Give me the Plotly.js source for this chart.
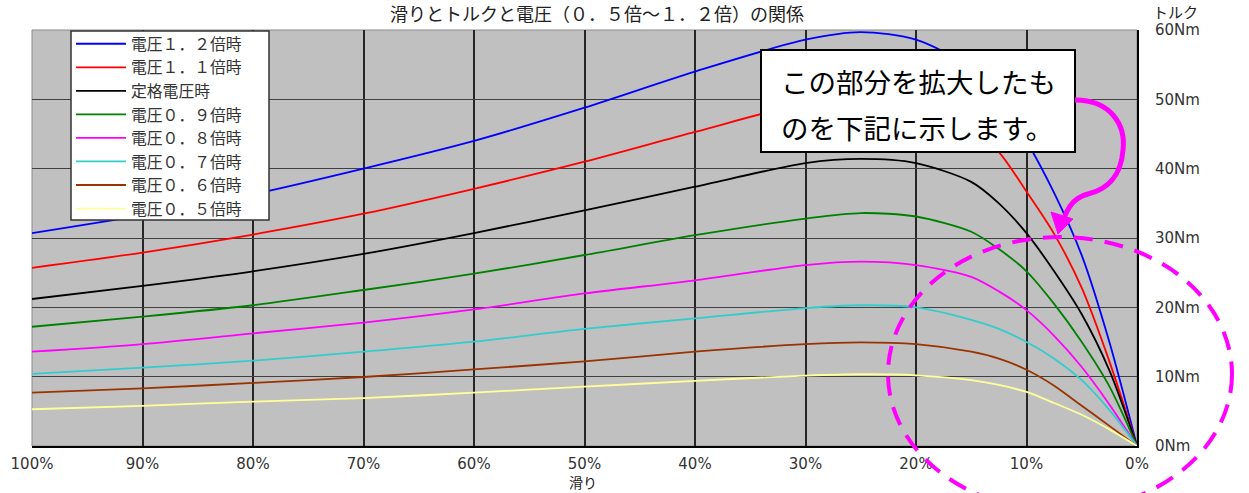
<!DOCTYPE html>
<html>
<head>
<meta charset="utf-8">
<script src="https://cdn.plot.ly/plotly-3.0.1.min.js"></script>
<style>
  html, body { margin: 0; padding: 0; background: #ffffff; }
  #chart { width: 1249px; height: 493px; }
</style>
</head>
<body>
<div id="chart"></div>
<script>
// Slip (%) sampled along each torque curve
const slip = [100, 90, 80, 70, 60, 50, 40, 30, 25, 20, 15, 12.5, 10, 7.5, 5, 2.5, 0];

// Torque (Nm) at each slip value, per supply voltage
const torqueV120 = [30.7, 33.3, 36.3, 40.0, 44.0, 48.8, 54.0, 58.6, 59.7, 58.6, 54.5, 50.2, 44.0, 36.5, 27.5, 15.0, 0];
const torqueV110 = [25.7, 27.9, 30.5, 33.5, 37.1, 41.0, 45.3, 49.4, 50.1, 49.6, 45.8, 42.4, 36.7, 30.6, 22.8, 12.2, 0];
const torqueRated = [21.2, 23.1, 25.2, 27.7, 30.7, 34.0, 37.4, 40.8, 41.4, 40.8, 38.1, 35.0, 30.7, 25.2, 19.0, 10.9, 0];
const torqueV090 = [17.2, 18.65, 20.3, 22.5, 24.85, 27.55, 30.4, 32.8, 33.6, 33.1, 30.9, 28.4, 25.2, 20.5, 15.0, 8.6, 0];
const torqueV080 = [13.6, 14.7, 16.25, 17.8, 19.7, 22.0, 23.9, 26.1, 26.6, 26.1, 24.4, 22.3, 19.6, 15.9, 11.4, 6.0, 0];
const torqueV070 = [10.4, 11.3, 12.3, 13.6, 15.05, 16.9, 18.4, 19.9, 20.3, 20.0, 18.2, 16.9, 15.0, 12.6, 9.5, 5.2, 0];
const torqueV060 = [7.7, 8.3, 9.1, 9.95, 11.05, 12.2, 13.6, 14.7, 14.95, 14.7, 13.6, 12.6, 11.0, 8.7, 5.8, 2.9, 0];
const torqueV050 = [5.3, 5.8, 6.4, 6.9, 7.7, 8.55, 9.4, 10.15, 10.35, 10.2, 9.5, 8.8, 7.8, 6.2, 4.5, 2.4, 0];

const seriesNames = ['電圧１．２倍時', '電圧１．１倍時', '定格電圧時', '電圧０．９倍時', '電圧０．８倍時', '電圧０．７倍時', '電圧０．６倍時', '電圧０．５倍時'];
const seriesValues = [torqueV120, torqueV110, torqueRated, torqueV090, torqueV080, torqueV070, torqueV060, torqueV050];
const seriesColors = ['#0000ff', '#ff0000', '#000000', '#008000', '#ff00ff', '#33cccc', '#993300', '#ffff99'];

// Axis ticks
const slipTicks = [100, 90, 80, 70, 60, 50, 40, 30, 20, 10, 0];
const slipTickText = ['100%', '90%', '80%', '70%', '60%', '50%', '40%', '30%', '20%', '10%', '0%'];
const torqueTicks = [0, 10, 20, 30, 40, 50, 60];
const torqueTickText = ['0Nm', '10Nm', '20Nm', '30Nm', '40Nm', '50Nm', '60Nm'];

const chartTitle = '滑りとトルクと電圧（０．５倍～１．２倍）の関係';
const xTitle = '滑り';
const yTitle = 'トルク';
const noteLines = ['この部分を拡大したも', 'のを下記に示します。'];

const FONT = '"Noto Sans CJK JP", "Noto Sans", sans-serif';
const TICKFONT = '"DejaVu Sans", "Noto Sans", sans-serif';

// Page geometry of the plotting area (pixels)
const W = 1249, H = 493;
const M = { l: 32, r: 112, t: 30, b: 47 };
const plotW = W - M.l - M.r;
const plotH = H - M.t - M.b;
const px = x => (x - M.l) / plotW;          // page x -> paper x
const py = y => (H - M.b - y) / plotH;      // page y -> paper y

const traces = seriesValues.map((vals, i) => ({
  type: 'scatter',
  mode: 'lines',
  x: slip,
  y: vals,
  name: seriesNames[i],
  line: { color: seriesColors[i], width: 1.8, shape: 'spline', smoothing: 0.8 },
  hoverinfo: 'x+y+name'
}));

// Curved magenta pointer from the note box toward the zoomed region
function pathFromPixels(cmds) {
  return cmds.map(c => {
    if (c[0] === 'Z') return 'Z';
    const pts = [];
    for (let k = 1; k < c.length; k += 2) {
      pts.push(px(c[k]).toFixed(5) + ',' + py(c[k + 1]).toFixed(5));
    }
    return c[0] + pts.join(' ');
  }).join(' ');
}

const arrowCurve = pathFromPixels([
  ['M', 1075, 100],
  ['C', 1110, 100, 1126, 124, 1123, 150],
  ['C', 1121, 178, 1105, 190, 1088, 194],
  ['C', 1076, 197, 1069, 205, 1065, 216]
]);
const arrowHead = pathFromPixels([
  ['M', 1058, 234],
  ['L', 1051, 212],
  ['L', 1073, 219],
  ['Z']
]);

const layout = {
  width: W,
  height: H,
  margin: M,
  paper_bgcolor: '#ffffff',
  plot_bgcolor: '#c0c0c0',
  font: { family: FONT, size: 14, color: '#222222' },
  showlegend: true,
  title: {
    text: chartTitle,
    font: { family: FONT, size: 18, color: '#222222' },
    xref: 'paper', x: px(597), xanchor: 'center',
    yref: 'container', y: 1 - 15 / H, yanchor: 'middle'
  },
  xaxis: {
    range: [100, 0],
    tickvals: slipTicks,
    ticktext: slipTickText,
    ticks: '',
    ticklabelstandoff: 3,
    tickfont: { family: TICKFONT, size: 15, color: '#333333' },
    showgrid: true,
    gridcolor: '#262626',
    gridwidth: 2,
    zeroline: false,
    showline: true,
    linecolor: '#000000',
    linewidth: 2,
    fixedrange: true
  },
  yaxis: {
    side: 'right',
    range: [0, 60],
    tickvals: torqueTicks,
    ticktext: torqueTickText,
    ticks: '',
    ticklabelstandoff: 13,
    tickfont: { family: TICKFONT, size: 15, color: '#333333' },
    showgrid: true,
    gridcolor: '#404040',
    gridwidth: 1,
    zeroline: false,
    showline: true,
    linecolor: '#000000',
    linewidth: 2,
    fixedrange: true
  },
  legend: {
    x: px(71), y: py(27),
    xanchor: 'left', yanchor: 'top',
    bgcolor: 'rgba(0,0,0,0)',
    borderwidth: 0,
    itemwidth: 50,
    tracegroupgap: 0,
    font: { family: FONT, size: 15.8, color: '#333333' }
  },
  shapes: [
    // light frame on the open edges of the plot area
    { type: 'rect', xref: 'paper', yref: 'paper', x0: 0, x1: 1, y0: 0, y1: 1,
      line: { color: '#8a8a8a', width: 1 }, layer: 'below' },
    // legend panel
    { type: 'rect', xref: 'paper', yref: 'paper',
      x0: px(71), x1: px(269), y0: py(220), y1: py(31),
      fillcolor: '#ffffff', line: { color: '#333333', width: 1.5 }, layer: 'above' },
    // note box
    { type: 'rect', xref: 'paper', yref: 'paper',
      x0: px(761), x1: px(1075), y0: py(152), y1: py(50),
      fillcolor: '#ffffff', line: { color: '#000000', width: 2 }, layer: 'above' },
    // dashed ellipse around the low-slip region
    { type: 'circle', xref: 'paper', yref: 'paper',
      x0: px(888), x1: px(1232), y0: py(511), y1: py(237),
      line: { color: '#ff00ff', width: 4, dash: '19px,12px' }, layer: 'above' },
    // curved pointer
    { type: 'path', xref: 'paper', yref: 'paper', path: arrowCurve,
      line: { color: '#ff00ff', width: 5 }, layer: 'above' },
    { type: 'path', xref: 'paper', yref: 'paper', path: arrowHead,
      fillcolor: '#ff00ff', line: { color: '#ff00ff', width: 1 }, layer: 'above' }
  ],
  annotations: [
    { text: noteLines[0], xref: 'paper', yref: 'paper', x: px(779), y: py(81),
      xanchor: 'left', yanchor: 'middle', showarrow: false,
      font: { family: FONT, size: 27.5, color: '#000000' } },
    { text: noteLines[1], xref: 'paper', yref: 'paper', x: px(779), y: py(127),
      xanchor: 'left', yanchor: 'middle', showarrow: false,
      font: { family: FONT, size: 27.5, color: '#000000' } },
    { text: xTitle, xref: 'paper', yref: 'paper', x: px(583), y: py(482),
      xanchor: 'center', yanchor: 'middle', showarrow: false,
      font: { family: FONT, size: 14, color: '#222222' } },
    { text: yTitle, xref: 'paper', yref: 'paper', x: px(1175), y: py(12),
      xanchor: 'center', yanchor: 'middle', showarrow: false,
      font: { family: FONT, size: 15, color: '#222222' } }
  ]
};

Plotly.newPlot('chart', traces, layout, { staticPlot: true, displayModeBar: false });
</script>
</body>
</html>
